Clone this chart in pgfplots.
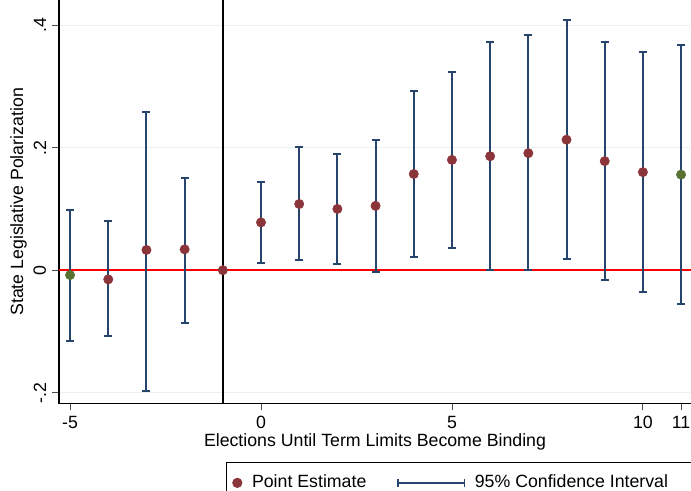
\documentclass[border=0pt]{standalone}
\usepackage{pgfplots}
\pgfplotsset{compat=1.18}
\usepackage{pgfplotstable}
\usepackage{fontspec}
\setmainfont{Liberation Sans}
\definecolor{ptred}{RGB}{139,52,58}
\definecolor{ptgreen}{RGB}{88,114,50}
\definecolor{cinavy}{RGB}{38,68,108}
\definecolor{gridc}{RGB}{234,241,242}

\pgfplotstableread{
x y lo hi
-5 -0.008 -0.115 0.098
-4 -0.015 -0.107 0.081
-3 0.033 -0.197 0.259
-2 0.034 -0.086 0.151
0 0.078 0.012 0.144
1 0.108 0.016 0.201
2 0.100 0.010 0.189
3 0.105 -0.003 0.213
4 0.157 0.022 0.293
5 0.180 0.037 0.324
6 0.186 0.000 0.373
7 0.191 0.000 0.384
8 0.213 0.018 0.408
9 0.178 -0.016 0.373
10 0.160 -0.036 0.356
11 0.156 -0.055 0.368
}\citable

\pgfplotstableread{
x y
-4 -0.015
-3 0.033
-2 0.034
-1 0.000
0 0.078
1 0.108
2 0.100
3 0.105
4 0.157
5 0.180
6 0.186
7 0.191
8 0.213
9 0.178
10 0.160
}\redpts

\pgfplotstableread{
x y
-5 -0.008
11 0.156
}\greenpts

\begin{document}
\fontsize{13.3pt}{15pt}\selectfont
\begin{tikzpicture}
\begin{axis}[
  at={(0,0)}, anchor=south west,
  scale only axis,
  width=474pt, height=302.8pt,
  xmin=-5.29, xmax=11.26,
  ymin=-0.218, ymax=0.441,
  axis x line*=bottom, axis y line*=left,
  axis line style={black, line width=0.8pt},
  tick align=outside,
  major tick length=5pt,
  tick style={black!70, line width=0.6pt},
  xtick={-5,0,5,10,11},
  ytick={-0.2,0,0.2,0.4},
  yticklabels={-.2,0,.2,.4},
  yticklabel style={rotate=90, anchor=south, font=\fontsize{13.3pt}{15pt}\selectfont},
  xticklabel style={font=\fontsize{13.3pt}{15pt}\selectfont},
  /pgf/number format/assume math mode=true,
  ymajorgrids, grid style={gridc, line width=0.8pt},
  xlabel={Elections Until Term Limits Become Binding},
  ylabel={State Legislative Polarization},
  label style={font=\fontsize{13.3pt}{15pt}\selectfont},
  xlabel style={yshift=6pt},
  ylabel style={yshift=-4pt},
  clip=false,
  legend columns=2,
  legend style={at={(0.264,-0.1444)}, anchor=north west, draw=black, line width=0.6pt,
    font=\fontsize{13.3pt}{15pt}\selectfont, inner xsep=4.5pt, inner ysep=7.5pt,
    /tikz/every odd column/.append style={column sep=5.25pt},
    /tikz/every even column/.append style={column sep=21pt}},
  legend cell align=left,
]
\addlegendimage{legend image code/.code={\fill[ptred] (0pt,0pt) circle (3.5pt);}}
\addlegendentry{Point Estimate}
\addlegendimage{legend image code/.code={\draw[cinavy, line width=1.1pt] (0pt,0pt) -- (50pt,0pt); \draw[cinavy, line width=1.1pt] (0pt,-3pt) -- (0pt,3pt); \draw[cinavy, line width=1.1pt] (50pt,-3pt) -- (50pt,3pt);}}
\addlegendentry{95\% Confidence Interval\kern18pt}

\addplot[red, line width=1.1pt, forget plot] coordinates {(-5.29,0) (11.26,0)};
\addplot[black, line width=1.1pt, forget plot] coordinates {(-1,-0.218) (-1,0.441)};

\addplot[forget plot, draw=none, mark=none,
  error bars/.cd, y dir=both, y explicit,
  error bar style={draw=cinavy, line width=1.5pt},
  error mark options={draw=cinavy, rotate=90, mark size=3pt, line width=1.5pt}]
  table[x=x, y=y, y error plus expr=\thisrow{hi}-\thisrow{y}, y error minus expr=\thisrow{y}-\thisrow{lo}] {\citable};

\addplot[forget plot, only marks, mark=*, mark size=3.5pt, ptred, mark options={draw=none, fill=ptred}] table[x=x,y=y] {\redpts};
\addplot[forget plot, only marks, mark=*, mark size=3.5pt, ptgreen, mark options={draw=none, fill=ptgreen}] table[x=x,y=y] {\greenpts};
\end{axis}
\pgfresetboundingbox
\useasboundingbox (-44.25pt,-64.7pt) rectangle (474pt,302.8pt);
\end{tikzpicture}
\end{document}
